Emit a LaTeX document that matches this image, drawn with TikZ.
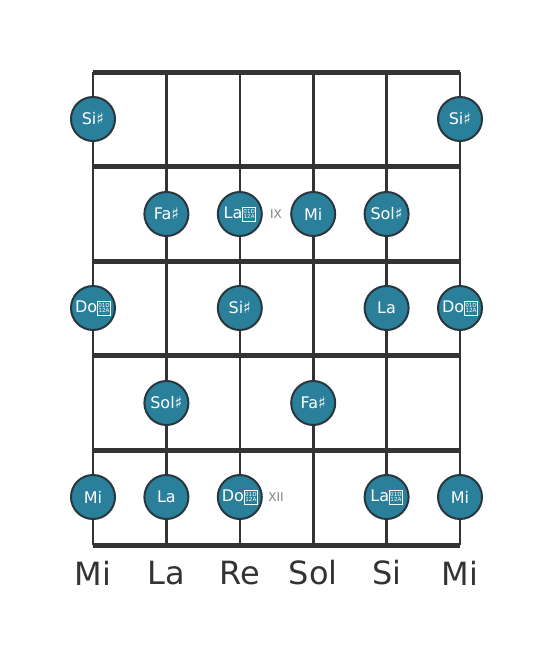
\documentclass[tikz,border=0pt]{standalone}
\usepackage{fontspec}
\setmainfont{DejaVu Sans}
\newcommand{\tofubox}{\begingroup\setlength{\fboxsep}{0.6pt}\setlength{\fboxrule}{0.5pt}\raisebox{-0.3pt}{\fbox{\fontsize{5.6}{6.4}\selectfont\begin{tabular}[b]{@{}c@{}}01D\\[-1pt]12A\end{tabular}}}\endgroup}
\begin{document}
\begin{tikzpicture}[x=1pt,y=-1pt,
  fretline/.style={line width=5pt,draw=black!80},
  stringline/.style={line width=2.6pt,draw=black!80},
  notec/.style={circle,minimum size=44pt,inner sep=0pt,fill={rgb,255:red,42;green,128;blue,155},draw={rgb,255:red,40;green,55;blue,62},line width=2pt,text=white,font=\fontsize{16}{18}\selectfont},
  fretnum/.style={text=black!50,font=\fontsize{12}{14}\selectfont},
  strname/.style={text=black!80,font=\fontsize{32}{36}\selectfont}]
\useasboundingbox (0,0) rectangle (553,656);
% strings
\foreach \i/\x in {1/93,2/166.4,3/239.8,4/313.2,5/386.6,6/460}{
  \coordinate (st\i) at (\x,72);
  \coordinate (sb\i) at (\x,545);
  \draw[stringline] (st\i) -- (sb\i);
}
% frets
\foreach \j/\y in {0/72,1/166.6,2/261.2,3/355.8,4/450.4,5/545}{
  \coordinate (fl\j) at (93,\y);
  \coordinate (fr\j) at (460,\y);
  \draw[fretline] (fl\j) -- (fr\j);
}
% notes
\node[notec] (n1a) at (93,119) {Si♯};
\node[notec] (n1b) at (460,119) {Si♯};
\node[notec] (n2a) at (166.4,214) {Fa♯};
\node[notec] (n2b) at (239.8,214) {La\tofubox};
\node[notec] (n2c) at (313.2,214) {Mi};
\node[notec] (n2d) at (386.6,214) {Sol♯};
\node[notec] (n3a) at (93,308) {Do\tofubox};
\node[notec] (n3b) at (239.8,308) {Si♯};
\node[notec] (n3c) at (386.6,308) {La};
\node[notec] (n3d) at (460,308) {Do\tofubox};
\node[notec] (n4a) at (166.4,403) {Sol♯};
\node[notec] (n4b) at (313.2,403) {Fa♯};
\node[notec] (n5a) at (93,497) {Mi};
\node[notec] (n5b) at (166.4,497) {La};
\node[notec] (n5c) at (239.8,497) {Do\tofubox};
\node[notec] (n5d) at (386.6,497) {La\tofubox};
\node[notec] (n5e) at (460,497) {Mi};
% fret numbers
\node[fretnum] (ix) at (276,214) {IX};
\node[fretnum] (xii) at (276,497) {XII};
% string names
\node[strname] (m1) at (93,573) {Mi};
\node[strname] (m2) at (166.4,573) {La};
\node[strname] (m3) at (239.8,573) {Re};
\node[strname] (m4) at (313.2,573) {Sol};
\node[strname] (m5) at (386.6,573) {Si};
\node[strname] (m6) at (460,573) {Mi};
\end{tikzpicture}
\end{document}
